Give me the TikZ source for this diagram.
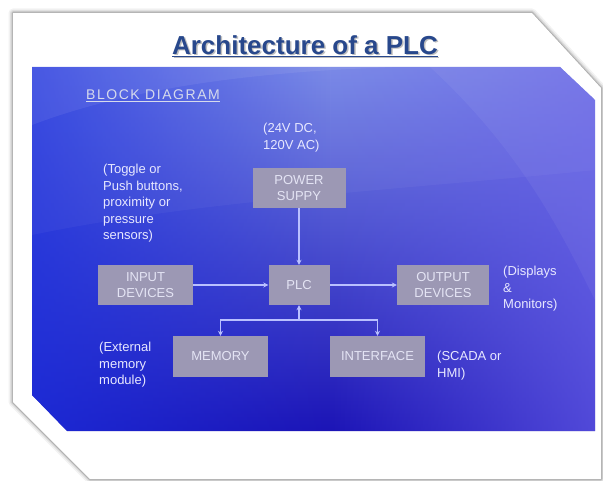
\documentclass[tikz,border=0pt]{standalone}
\usepackage{fontspec}
\setmainfont{Liberation Sans}
\usetikzlibrary{arrows.meta,fadings}
\definecolor{titleblue}{RGB}{40,72,140}
\definecolor{boxgray}{RGB}{156,152,180}
\definecolor{boxtext}{RGB}{228,228,244}
\definecolor{linecol}{RGB}{185,192,255}
\definecolor{labtext}{RGB}{232,232,255}
\definecolor{bgtop}{RGB}{118,134,230}
\definecolor{bgbot}{RGB}{28,20,182}
\definecolor{bgleft}{RGB}{28,48,222}
\definecolor{bgright}{RGB}{104,96,232}
\tikzset{
  blockbox/.style={fill=boxgray, text=boxtext, font=\fontsize{13}{16}\selectfont, align=center, inner sep=0pt},
  conn/.style={draw=linecol, line width=1.3pt, -{Stealth[length=5pt,width=5pt]}},
  note/.style={text=labtext, font=\fontsize{13}{16.5}\selectfont, align=left, anchor=north west, inner sep=0pt},
}
\begin{document}
\begin{tikzpicture}[x=1pt,y=-1pt]
\useasboundingbox (0,0) rectangle (603,481);
\fill[white] (0,0) rectangle (603,481);
% card shadow
\foreach \w/\o in {9/0.05,6/0.07,3.5/0.1,1.5/0.15}{
  \draw[black, opacity=\o, line width=\w pt, line join=round]
    (13,13) -- (532,13) -- (601,88) -- (601,479) -- (90,479) -- (13,402) -- cycle;
}
\fill[white] (13,13) -- (532,13) -- (601,88) -- (601,479) -- (90,479) -- (13,402) -- cycle;
% blue panel
\path[top color=bgtop, bottom color=bgbot]
  (32,67) -- (560,67) -- (595,100) -- (595,431) -- (67,431) -- (32,395) -- cycle;
\begin{scope}
\clip (32,67) -- (560,67) -- (595,100) -- (595,431) -- (67,431) -- (32,395) -- cycle;
\fill[bgleft, opacity=0.75, path fading=east] (32,67) rectangle (330,431);
\fill[bgright, opacity=0.7, path fading=west] (330,67) rectangle (595,431);
\fill[white, opacity=0.07] (32,125) .. controls (150,80) and (300,70) .. (400,67) -- (32,67) -- cycle;
\fill[white, opacity=0.05] (430,67) .. controls (520,150) and (560,230) .. (595,300) -- (595,67) -- cycle;
\fill[white, opacity=0.04] (32,235) .. controls (200,200) and (400,190) .. (595,170) -- (595,67) -- (32,67) -- cycle;
\end{scope}
% title
\node[text=black, opacity=0.25, font=\fontsize{26}{30}\selectfont\bfseries] at (306.5,47.5) {\underline{Architecture of a PLC}};
\node (title) [text=titleblue, font=\fontsize{26}{30}\selectfont\bfseries] at (305,46) {\underline{Architecture of a PLC}};
\node (bd) [text={rgb,255:red,214;green,218;blue,236}, font=\fontsize{14}{16}\selectfont\addfontfeatures{LetterSpace=11}, anchor=west, inner sep=0pt] at (86,96) {\underline{BLOCK DIAGRAM}};
% boxes
\node (power) [blockbox, minimum width=93pt, minimum height=40pt] at (299,188) {POWER\\SUPPY};
\node (input) [blockbox, minimum width=95pt, minimum height=40pt] at (145.5,285) {INPUT\\DEVICES};
\node (plc) [blockbox, minimum width=61pt, minimum height=40pt] at (299,285) {PLC};
\node (output) [blockbox, minimum width=92pt, minimum height=40pt] at (443,285) {OUTPUT\\DEVICES};
\node (memory) [blockbox, minimum width=95pt, minimum height=41pt] at (220.5,356.5) {MEMORY};
\node (interface) [blockbox, minimum width=95pt, minimum height=41pt] at (377.5,356.5) {INTERFACE};
% connectors
\coordinate (j) at (299,320);
\draw[conn] (power) -- (plc);
\draw[conn] (input) -- (plc);
\draw[conn] (plc) -- (output);
\draw[conn] (j) -- (plc.south);
\draw[conn] (j) -| (memory.north);
\draw[conn] (j) -| (interface.north);
% notes
\node (n1) [note] at (263,123) {(24V DC,\\120V AC)};
\node (n2) [note] at (103,164) {(Toggle or\\Push buttons,\\proximity or\\pressure\\sensors)};
\node (n3) [note] at (503,266) {(Displays\\\&\\Monitors)};
\node (n4) [note] at (99,342) {(External\\memory\\module)};
\node (n5) [note] at (437,351) {(SCADA or\\HMI)};
\end{tikzpicture}
\end{document}
